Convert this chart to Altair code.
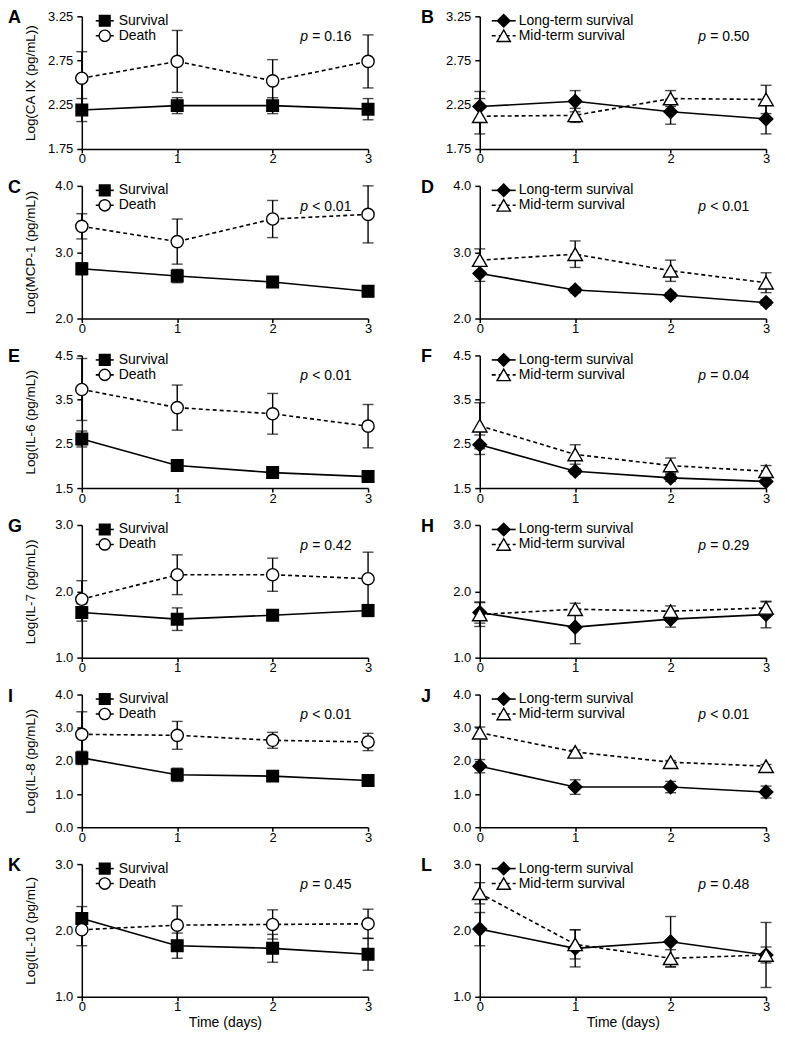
import altair as alt
import pandas as pd

DAYS = [0, 1, 2, 3]
DAY_LABELS = [0, 1, 2, 3]

LEFT_GROUPS = ["Survival", "Death"]
RIGHT_GROUPS = ["Long-term survival", "Mid-term survival"]

# ---- CA IX (A, B) ----
caix_survival = [2.19, 2.24, 2.24, 2.20]
caix_survival_err = [0.13, 0.09, 0.09, 0.12]
caix_death = [2.55, 2.74, 2.52, 2.74]
caix_death_err = [0.30, 0.35, 0.24, 0.30]
caix_long = [2.23, 2.29, 2.17, 2.09]
caix_long_err = [0.17, 0.12, 0.14, 0.17]
caix_mid = [2.12, 2.13, 2.32, 2.31]
caix_mid_err = [0.20, 0.08, 0.09, 0.16]

# ---- MCP-1 (C, D) ----
mcp_survival = [2.75, 2.64, 2.55, 2.41]
mcp_survival_err = [0.09, 0.10, 0.08, 0.08]
mcp_death = [3.39, 3.16, 3.50, 3.57]
mcp_death_err = [0.19, 0.34, 0.28, 0.43]
mcp_long = [2.68, 2.43, 2.35, 2.24]
mcp_long_err = [0.12, 0.04, 0.04, 0.04]
mcp_mid = [2.88, 2.97, 2.72, 2.54]
mcp_mid_err = [0.17, 0.20, 0.16, 0.15]

# ---- IL-6 (E, F) ----
il6_survival = [2.61, 2.01, 1.85, 1.76]
il6_survival_err = [0.18, 0.05, 0.05, 0.04]
il6_death = [3.73, 3.32, 3.18, 2.90]
il6_death_err = [0.70, 0.51, 0.46, 0.49]
il6_long = [2.48, 1.88, 1.73, 1.65]
il6_long_err = [0.22, 0.06, 0.08, 0.05]
il6_mid = [2.91, 2.26, 2.01, 1.88]
il6_mid_err = [0.52, 0.22, 0.17, 0.13]

# ---- IL-7 (G, H) ----
il7_survival = [1.68, 1.58, 1.64, 1.71]
il7_survival_err = [0.13, 0.17, 0.07, 0.09]
il7_death = [1.88, 2.25, 2.25, 2.19]
il7_death_err = [0.28, 0.30, 0.25, 0.40]
il7_long = [1.68, 1.46, 1.58, 1.65]
il7_long_err = [0.16, 0.25, 0.12, 0.20]
il7_mid = [1.65, 1.73, 1.70, 1.75]
il7_mid_err = [0.18, 0.09, 0.08, 0.09]

# ---- IL-8 (I, J) ----
il8_survival = [2.09, 1.58, 1.54, 1.41]
il8_survival_err = [0.20, 0.20, 0.07, 0.08]
il8_death = [2.80, 2.77, 2.62, 2.57]
il8_death_err = [0.68, 0.42, 0.24, 0.26]
il8_long = [1.84, 1.21, 1.21, 1.06]
il8_long_err = [0.20, 0.22, 0.17, 0.18]
il8_mid = [2.85, 2.27, 1.96, 1.84]
il8_mid_err = [0.17, 0.06, 0.05, 0.05]

# ---- IL-10 (K, L) ----
il10_survival = [2.18, 1.77, 1.73, 1.64]
il10_survival_err = [0.18, 0.19, 0.21, 0.24]
il10_death = [2.01, 2.08, 2.09, 2.10]
il10_death_err = [0.24, 0.29, 0.22, 0.22]
il10_long = [2.02, 1.73, 1.83, 1.63]
il10_long_err = [0.25, 0.28, 0.38, 0.49]
il10_mid = [2.56, 1.79, 1.58, 1.63]
il10_mid_err = [0.16, 0.22, 0.13, 0.12]

Y_LABELS = ["Log(CA IX (pg/mL))", "Log(MCP-1 (pg/mL))", "Log(IL-6 (pg/mL))",
            "Log(IL-7 (pg/mL))", "Log(IL-8 (pg/mL))", "Log(IL-10 (pg/mL)"]
Y_DOMAINS = [[1.75, 3.25], [2.0, 4.0], [1.5, 4.5], [1.0, 3.0], [0.0, 4.0], [1.0, 3.0]]
Y_TICKS = [[1.75, 2.25, 2.75, 3.25], [2.0, 3.0, 4.0], [1.5, 2.5, 3.5, 4.5],
           [1.0, 2.0, 3.0], [0.0, 1.0, 2.0, 3.0, 4.0], [1.0, 2.0, 3.0]]
Y_FORMATS = [".2f", ".1f", ".1f", ".1f", ".1f", ".1f"]
LETTERS = ["A", "B", "C", "D", "E", "F", "G", "H", "I", "J", "K", "L"]
P_TEXTS = ["= 0.16", "= 0.50", "< 0.01", "< 0.01", "< 0.01", "= 0.04",
           "= 0.42", "= 0.29", "< 0.01", "< 0.01", "= 0.45", "= 0.48"]

SERIES = [
    (caix_survival, caix_survival_err, caix_death, caix_death_err),
    (caix_long, caix_long_err, caix_mid, caix_mid_err),
    (mcp_survival, mcp_survival_err, mcp_death, mcp_death_err),
    (mcp_long, mcp_long_err, mcp_mid, mcp_mid_err),
    (il6_survival, il6_survival_err, il6_death, il6_death_err),
    (il6_long, il6_long_err, il6_mid, il6_mid_err),
    (il7_survival, il7_survival_err, il7_death, il7_death_err),
    (il7_long, il7_long_err, il7_mid, il7_mid_err),
    (il8_survival, il8_survival_err, il8_death, il8_death_err),
    (il8_long, il8_long_err, il8_mid, il8_mid_err),
    (il10_survival, il10_survival_err, il10_death, il10_death_err),
    (il10_long, il10_long_err, il10_mid, il10_mid_err),
]

W, H = 287, 133
FONT = "Liberation Sans"

MARKERS = {
    0: [dict(shape="square", size=135, fill="black"), dict(shape="circle", size=150, fill="white")],
    1: [dict(shape="diamond", size=185, fill="black"), dict(shape="triangle-up", size=210, fill="white")],
}
LEGEND_GEOM = {0: dict(x0=14, x1=32, mx=23, tx=37, y=[4.5, 19.5]),
               1: dict(x0=12, x1=36, mx=24, tx=39, y=[4.5, 19.5])}
LETTER_X = {0: -74, 1: -59}

one_row = pd.DataFrame({"k": [0]})


def make_panel(idx):
    row, col = divmod(idx, 2)
    bottom = row == 5
    names = LEFT_GROUPS if col == 0 else RIGHT_GROUPS
    s1, e1, s2, e2 = SERIES[idx]
    recs = []
    for gi, (vals, errs) in enumerate([(s1, e1), (s2, e2)]):
        for d, v, e in zip(DAYS, vals, errs):
            recs.append({"day": d, "value": v, "lo": v - e, "hi": v + e, "series": names[gi]})
    df = pd.DataFrame(recs)

    xs = alt.Scale(domain=[0, 3], nice=False, zero=False)
    ys = alt.Scale(domain=Y_DOMAINS[row], nice=False, zero=False)
    xax = alt.Axis(values=DAY_LABELS, format="d", title="Time (days)" if bottom else None,
                   tickSize=4, labelPadding=0, titlePadding=2, titleFontSize=14,
                   titleFontWeight="normal", labelFontSize=13, labelFlush=False)
    yax = alt.Axis(values=Y_TICKS[row], format=Y_FORMATS[row],
                   title=Y_LABELS[row] if col == 0 else None,
                   tickSize=5, labelPadding=4, minExtent=33, maxExtent=33,
                   titlePadding=11, titleFontSize=13.5, titleFontWeight="normal",
                   labelFontSize=13)
    X = alt.X("day:Q", scale=xs, axis=xax)

    base = alt.Chart(df)
    bars, lines, points = [], [], []
    for gi, name in enumerate(names):
        sub = base.transform_filter(alt.datum.series == name)
        bars.append(sub.mark_rule(color="black", strokeWidth=1.4).encode(
            x=X, y=alt.Y("lo:Q", scale=ys, axis=yax), y2="hi:Q"))
        for fld in ["lo", "hi"]:
            bars.append(sub.mark_tick(orient="horizontal", size=11, thickness=1.4, color="black").encode(
                x=X, y=alt.Y(f"{fld}:Q", scale=ys, axis=yax)))
        lk = dict(color="black", strokeWidth=1.6)
        if gi == 1:
            lk["strokeDash"] = [4, 3]
        lines.append(sub.mark_line(**lk).encode(x=X, y=alt.Y("value:Q", scale=ys, axis=yax)))
        m = MARKERS[col][gi]
        points.append(sub.mark_point(shape=m["shape"], size=m["size"], filled=True, fill=m["fill"],
                                     stroke="black", strokeWidth=1.4, opacity=1).encode(
            x=X, y=alt.Y("value:Q", scale=ys, axis=yax)))

    # legend (decoration)
    g = LEGEND_GEOM[col]
    deco = []
    one = alt.Chart(one_row)
    for gi, name in enumerate(names):
        ly = g["y"][gi]
        rk = dict(color="black", strokeWidth=1.6)
        if gi == 1:
            rk["strokeDash"] = [4, 3]
        deco.append(one.mark_rule(**rk).encode(x=alt.value(g["x0"]), x2=alt.value(g["x1"]), y=alt.value(ly)))
        m = MARKERS[col][gi]
        deco.append(one.mark_point(shape=m["shape"], size=m["size"] * 0.85, filled=True, fill=m["fill"],
                                   stroke="black", strokeWidth=1.4, opacity=1).encode(
            x=alt.value(g["mx"]), y=alt.value(ly)))
        deco.append(one.mark_text(align="left", baseline="middle", fontSize=14, font=FONT).encode(
            x=alt.value(g["tx"]), y=alt.value(ly), text=alt.value(name)))
    deco.append(one.mark_text(align="left", baseline="middle", fontSize=14, font=FONT,
                              fontStyle="italic").encode(
        x=alt.value(219), y=alt.value(21), text=alt.value("p")))
    deco.append(one.mark_text(align="left", baseline="middle", fontSize=14, font=FONT).encode(
        x=alt.value(231), y=alt.value(21), text=alt.value(P_TEXTS[idx])))
    deco.append(one.mark_text(align="left", baseline="top", fontSize=18, font=FONT,
                              fontWeight="bold").encode(
        x=alt.value(LETTER_X[col]), y=alt.value(-7), text=alt.value(LETTERS[idx])))

    return alt.layer(*bars, *lines, *points, *deco).properties(width=W, height=H)


panels = [make_panel(i) for i in range(12)]

chart = alt.concat(*panels, columns=2, spacing={"row": 37, "column": 112}, bounds="flush").properties(
    padding={"top": 0, "left": 0, "right": 0, "bottom": 0}
).configure(font=FONT).configure_view(stroke=None).configure_axis(
    grid=False, domainColor="black", domainWidth=1.5, tickColor="black", tickWidth=1.5,
    labelColor="black", titleColor="black", labelFont=FONT, titleFont=FONT
)

chart.save("out.html", embed_options={"renderer": "svg", "actions": False})
